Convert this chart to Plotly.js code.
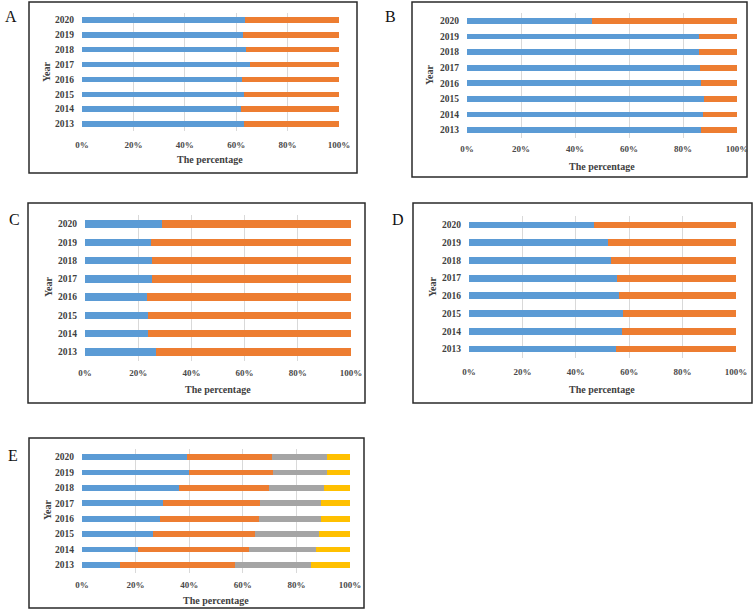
<!DOCTYPE html>
<html>
<head>
<meta charset="utf-8">
<script src="https://cdn.plot.ly/plotly-3.0.1.min.js"></script>
<style>
  html, body { margin: 0; padding: 0; background: #ffffff; }
  #chart { width: 753px; height: 609px; }
</style>
</head>
<body>
<div id="chart"></div>
<script>
// ---------- DATA ----------
const years = ['2013', '2014', '2015', '2016', '2017', '2018', '2019', '2020'];
const tickVals = [0, 20, 40, 60, 80, 100];
const tickLabels = ['0%', '20%', '40%', '60%', '80%', '100%'];

const aBlue   = [63.0, 61.9, 63.2, 62.3, 65.4, 63.7, 62.8, 63.6];
const aOrange = [37.0, 38.1, 36.8, 37.7, 34.6, 36.3, 37.2, 36.4];

const bBlue   = [86.8, 87.5, 87.9, 86.5, 86.4, 86.0, 85.8, 46.2];
const bOrange = [13.2, 12.5, 12.1, 13.5, 13.6, 14.0, 14.2, 53.8];

const cBlue   = [26.6, 23.6, 23.7, 23.2, 25.0, 25.2, 24.7, 28.9];
const cOrange = [73.4, 76.4, 76.3, 76.8, 75.0, 74.8, 75.3, 71.1];

const dBlue   = [54.9, 57.2, 57.8, 56.3, 55.3, 53.3, 51.9, 46.9];
const dOrange = [45.1, 42.8, 42.2, 43.7, 44.7, 46.7, 48.1, 53.1];

const eBlue   = [14.2, 20.8, 26.6, 29.2, 30.4, 36.3, 40.0, 39.2];
const eOrange = [43.0, 41.4, 38.1, 36.8, 36.1, 33.4, 31.4, 31.8];
const eGrey   = [28.3, 25.2, 23.6, 23.0, 22.8, 20.7, 20.2, 20.5];
const eYellow = [14.5, 12.6, 11.7, 11.0, 10.7,  9.6,  8.4,  8.5];

const xTitle = 'The percentage';
const yTitle = 'Year';
const panelLetters = ['A', 'B', 'C', 'D', 'E'];

// ---------- STYLE / LAYOUT ----------
const W = 753, H = 609;
const colors = ['#5B9BD5', '#ED7D31', '#A5A5A5', '#FFC000'];
const serif = '"Liberation Serif", "Times New Roman", serif';
const px = x => x / W;
const py = y => 1 - y / H;

// plot-area pixel boxes, bar width, letter pos, border box, title positions, tick standoff
const panels = [
  { series: [aBlue, aOrange], plot: [82, 339, 12.6, 131.4], bw: 0.37,
    box: [29, 357, 2, 173], letter: [11, 17], xt: [210.5, 159], yt: [47, 72], so: 7 },
  { series: [bBlue, bOrange], plot: [467, 737, 13.2, 137.8], bw: 0.37,
    box: [412, 747, 2, 177], letter: [390, 17], xt: [602, 166], yt: [430, 75], so: 4 },
  { series: [cBlue, cOrange], plot: [85, 351, 214.9, 361.1], bw: 0.40,
    box: [28, 365, 203, 403], letter: [14, 219], xt: [218, 389], yt: [48, 287], so: 5 },
  { series: [dBlue, dOrange], plot: [469, 736, 216.1, 357.9], bw: 0.38,
    box: [413, 752, 203, 403], letter: [398, 219], xt: [602, 389], yt: [432, 287], so: 7 },
  { series: [eBlue, eOrange, eGrey, eYellow], plot: [82, 350, 449.3, 572.7], bw: 0.37,
    box: [29, 364, 438, 608], letter: [13, 455], xt: [216, 600], yt: [47, 510], so: 5 }
];

const traces = [];
const layout = {
  width: W, height: H,
  margin: { l: 0, r: 0, t: 0, b: 0 },
  paper_bgcolor: '#ffffff', plot_bgcolor: '#ffffff',
  barmode: 'stack',
  showlegend: false,
  shapes: [], annotations: []
};

panels.forEach((p, i) => {
  const n = i + 1;
  const xa = n === 1 ? 'x' : 'x' + n;
  const ya = n === 1 ? 'y' : 'y' + n;
  p.series.forEach((vals, k) => {
    traces.push({
      type: 'bar', orientation: 'h',
      x: vals, y: years,
      xaxis: xa, yaxis: ya,
      width: p.bw,
      marker: { color: colors[k], line: { width: 0 } },
      hoverinfo: 'x+y'
    });
  });
  layout['xaxis' + (n === 1 ? '' : n)] = {
    domain: [px(p.plot[0]), px(p.plot[1])],
    anchor: ya,
    range: [0, 100], fixedrange: true,
    tickvals: tickVals, ticktext: tickLabels,
    showgrid: true, gridcolor: '#d9d9d9', gridwidth: 1,
    zeroline: false, showline: false, ticks: '',
    ticklabelstandoff: p.so,
    tickfont: { family: serif, size: 9, color: '#4a4a4a', weight: 'bold' }
  };
  layout['yaxis' + (n === 1 ? '' : n)] = {
    domain: [py(p.plot[3]), py(p.plot[2])],
    anchor: xa,
    type: 'category', categoryorder: 'array', categoryarray: years,
    range: [-0.5, years.length - 0.5], fixedrange: true,
    showgrid: false, zeroline: false,
    showline: false, ticks: '',
    ticklabelstandoff: 7,
    tickfont: { family: serif, size: 9.5, color: '#404040', weight: 'bold' }
  };
  layout.shapes.push({
    type: 'rect', xref: 'paper', yref: 'paper',
    x0: px(p.box[0]), x1: px(p.box[1]), y0: py(p.box[3]), y1: py(p.box[2]),
    line: { color: '#2a2a2a', width: 1.5 }, fillcolor: 'rgba(0,0,0,0)', layer: 'below'
  });
  layout.annotations.push({
    text: panelLetters[i], xref: 'paper', yref: 'paper',
    x: px(p.letter[0]), y: py(p.letter[1]), xanchor: 'center', yanchor: 'middle',
    showarrow: false, font: { family: serif, size: 16, color: '#111111' }
  });
  layout.annotations.push({
    text: xTitle, xref: 'paper', yref: 'paper',
    x: px(p.xt[0]), y: py(p.xt[1]), xanchor: 'center', yanchor: 'middle',
    showarrow: false, font: { family: serif, size: 10, color: '#404040', weight: 'bold' }
  });
  layout.annotations.push({
    text: yTitle, xref: 'paper', yref: 'paper', textangle: -90,
    x: px(p.yt[0]), y: py(p.yt[1]), xanchor: 'center', yanchor: 'middle',
    showarrow: false, font: { family: serif, size: 10, color: '#404040', weight: 'bold' }
  });
});

Plotly.newPlot('chart', traces, layout, { staticPlot: true, displayModeBar: false });
</script>
</body>
</html>
